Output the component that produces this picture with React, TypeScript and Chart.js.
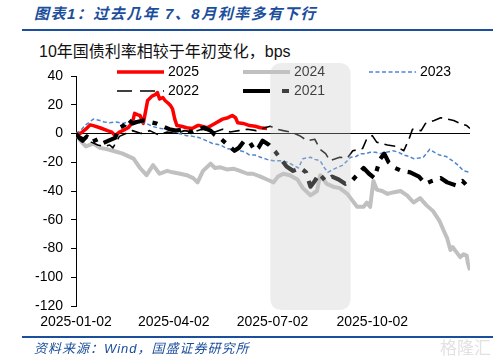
import React, { useEffect, useRef } from 'react';
import { Chart, registerables } from 'chart.js';

Chart.register(...registerables);

// ---- axis ticks ----
const xTickDays = [0, 90, 181, 273];
const xTickLabels = ['2025-01-02', '2025-04-02', '2025-07-02', '2025-10-02'];
const xMaxDay = 363;
const yMin = -120;
const yMax = 40;
const yStep = 20;

// ---- series (x = days since 2025-01-02, y = bps change vs. start of year) ----
const seriesNames = ['2025', '2024', '2023', '2022', '2021'];

const days2025 = [0, 4, 9, 13, 16, 22, 29, 33, 36, 40, 43, 48, 52, 54, 57, 59, 62, 64, 66, 70, 73, 75, 77, 80, 82, 85, 87, 89, 91, 93, 97, 102, 107, 112, 114, 121, 128, 135, 140, 144, 147, 149, 154, 160, 165, 170, 176];
const vals2025 = [0, 0, 3, 6, 5.5, 4, 2, 1, -1.5, 1, 2, 4, 7.5, 14, 13, 12.5, 7, 15, 23, 26, 27, 28.5, 24, 25, 23, 21, 19.5, 17, 10, 5.5, 5, 4, 3.5, 5.5, 5.5, 4, 7, 10, 11, 12.5, 11, 7.5, 7, 5.5, 5, 4, 3.5];

const days2024 = [0, 4, 9, 16, 22, 29, 34, 43, 53, 59, 65, 71, 77, 84, 89, 96, 102, 108, 112, 117, 124, 128, 133, 139, 145, 151, 158, 163, 170, 176, 182, 186, 191, 197, 204, 209, 216, 222, 225, 231, 237, 243, 250, 254, 259, 265, 268, 271, 274, 277, 282, 287, 292, 299, 305, 311, 317, 323, 329, 335, 339, 342, 345, 347, 350, 354, 357, 360, 361, 363];
const vals2024 = [0, -5, -9, -7, -10, -11, -12, -14, -17.5, -24, -29, -22, -28, -26, -27, -28, -29, -31, -34, -26, -21, -24, -23.5, -25, -24.5, -26, -28, -28, -30, -32, -34, -30, -28, -29, -32, -38, -43, -40, -29, -35, -37, -38, -42, -46, -51, -51, -48, -51, -33, -39, -40, -42, -41, -40, -43, -48, -45, -50, -54, -61, -68, -73, -81, -79, -82, -86, -84, -85, -90, -95];

const days2023 = [0, 4, 9, 16, 22, 26, 31, 37, 43, 48, 53, 59, 65, 70, 75, 82, 89, 95, 102, 108, 114, 120, 126, 133, 139, 145, 151, 156, 160, 165, 170, 176, 182, 188, 195, 200, 205, 209, 213, 216, 220, 225, 229, 232, 237, 241, 246, 253, 258, 262, 267, 271, 276, 280, 286, 292, 297, 302, 307, 311, 316, 320, 326, 330, 335, 341, 347, 352, 357, 363];
const vals2023 = [0, 2, 6, 10, 9, 8, 7.5, 8, 7, 8, 9, 8, 7, 5, 4, 3, 2, 0, -1.5, -2, -3, -5, -7, -8, -10.5, -11, -12, -13, -15, -15, -16.5, -18, -19, -19, -20, -22, -24, -17.5, -17, -16.5, -18, -19, -24, -27, -25, -23.5, -22, -16.5, -16, -14, -14, -13, -13, -14, -13, -12, -13, -15, -16, -17.5, -17, -16.5, -11, -13, -15, -16, -19, -22, -26, -27];

const days2022 = [0, 4, 9, 14, 20, 26, 31, 34, 40, 46, 52, 60, 68, 76, 84, 92, 100, 108, 116, 122, 128, 135, 142, 150, 158, 166, 174, 179, 185, 191, 198, 206, 213, 220, 225, 230, 234, 243, 250, 255, 264, 268, 273, 277, 287, 295, 302, 307, 310, 318, 322, 330, 336, 342, 348, 354, 360, 363];
const vals2022 = [0, -2, -4, -6, -8, -9, -8, -10, -2, 0, 2, 0, 2, -1, 1, 0, 2, 1, 3, 2, 1, 3, 1, 2, 3, 2, 4, 5, 3, 2, 1, -1.5, -5, -4, -11, -14, -19, -16.5, -17, -12, -10.5, -3.5, -1.5, -6, -8, -9, -12, -3.5, 3, 2, 7, 9, 11, 10, 9, 7, 5.5, 3.5];

const days2021 = [0, 3, 6, 10, 14, 20, 24, 30, 36, 40, 45, 48, 52, 56, 62, 68, 74, 80, 86, 92, 100, 106, 112, 118, 124, 128, 134, 140, 146, 150, 155, 160, 165, 168, 172, 178, 184, 190, 194, 200, 207, 212, 216, 220, 224, 230, 236, 242, 248, 254, 265, 270, 275, 280, 284, 288, 294, 300, 308, 316, 322, 328, 336, 342, 350, 356, 360, 363];
const vals2021 = [0, -3, -5, -2, -6, -4, -7, -5, -3, 4, 6, 10, 7, 8, 9, 8, 7, 5, 3, 2, 3, 1, 3, 4, 2, -1, -4, -8, -12, -10, -5, -6, -12, -10, -5, -8, -13, -19, -23, -26, -24, -27, -37, -33, -28, -33, -30, -32, -35, -33, -24, -28, -31, -18, -14, -20, -24, -26, -27, -30, -35, -33, -31, -34, -36, -33, -36, -38];

// shaded period (days)
const shadeStartDay = 179;
const shadeEndDay = 253;

const LATIN = '"Liberation Sans", Arial, "Noto Sans CJK SC", sans-serif';
const CJK = '"Liberation Sans", "Noto Sans CJK SC", sans-serif';
const BLUE = '#1b4e9c';

const styles = [
  { color: '#ff0000', width: 3.5, dash: [] as number[], legendDash: [] as number[] },
  { color: '#c0c0c0', width: 4, dash: [] as number[], legendDash: [] as number[] },
  { color: '#4f86cf', width: 1.5, dash: [4, 2.5], legendDash: [4, 2.5] },
  { color: '#000000', width: 1.6, dash: [11, 6], legendDash: [15, 8] },
  { color: '#000000', width: 4.2, dash: [17, 8, 5, 8], legendDash: [27, 12, 7, 12] },
];
const drawOrder = [4, 3, 2, 1, 0];
const legendPos = [
  { x: 117, y: 72 },
  { x: 243, y: 72 },
  { x: 369, y: 72 },
  { x: 117, y: 91 },
  { x: 243, y: 91 },
];

const legendPlugin = {
  id: 'customLegend',
  afterDatasetsDraw(chart: any) {
    const ctx = chart.ctx;
    ctx.save();
    chart.data.datasets.forEach((ds: any, i: number) => {
      const p = legendPos[i];
      const s = styles[i];
      ctx.beginPath();
      ctx.strokeStyle = s.color;
      ctx.lineWidth = s.width;
      ctx.setLineDash(s.legendDash);
      ctx.lineCap = 'butt';
      ctx.moveTo(p.x, p.y);
      ctx.lineTo(p.x + 47, p.y);
      ctx.stroke();
      ctx.setLineDash([]);
      ctx.fillStyle = '#000';
      ctx.font = '14px ' + LATIN;
      ctx.textBaseline = 'middle';
      ctx.textAlign = 'left';
      ctx.fillText(ds.label, p.x + 51, p.y + 0.5);
    });
    ctx.restore();
  },
};

const shadePlugin = {
  id: 'shade',
  afterDraw(chart: any) {
    const ctx = chart.ctx;
    const xs = chart.scales.x;
    const x0 = xs.getPixelForValue(shadeStartDay);
    const x1 = xs.getPixelForValue(shadeEndDay);
    const y0 = 63;
    const y1 = chart.chartArea.bottom + 4;
    const r = 12;
    ctx.save();
    ctx.fillStyle = 'rgba(200,200,200,0.32)';
    ctx.beginPath();
    ctx.moveTo(x0 + r, y0);
    ctx.lineTo(x1 - r, y0);
    ctx.quadraticCurveTo(x1, y0, x1, y0 + r);
    ctx.lineTo(x1, y1 - r);
    ctx.quadraticCurveTo(x1, y1, x1 - r, y1);
    ctx.lineTo(x0 + r, y1);
    ctx.quadraticCurveTo(x0, y1, x0, y1 - r);
    ctx.lineTo(x0, y0 + r);
    ctx.quadraticCurveTo(x0, y0, x0 + r, y0);
    ctx.closePath();
    ctx.fill();
    ctx.restore();
  },
};

export default function App() {
  const ref = useRef<HTMLCanvasElement>(null);

  useEffect(() => {
    const toPts = (d: number[], v: number[]) => d.map((x, i) => ({ x, y: v[i] }));
    const allDays = [days2025, days2024, days2023, days2022, days2021];
    const allVals = [vals2025, vals2024, vals2023, vals2022, vals2021];
    const datasets = seriesNames.map((name, i) => ({
      label: name,
      data: toPts(allDays[i], allVals[i]),
      borderColor: styles[i].color,
      borderWidth: styles[i].width,
      borderDash: styles[i].dash,
      borderJoinStyle: 'round' as const,
      pointRadius: 0,
      tension: 0,
      fill: false,
      order: drawOrder[i],
    }));

    const chart = new Chart(ref.current as HTMLCanvasElement, {
      type: 'line',
      data: { datasets },
      options: {
        responsive: false,
        animation: false,
        layout: { padding: { top: 76, right: 23, bottom: 25, left: 0 } },
        plugins: { legend: { display: false }, tooltip: { enabled: false } },
        scales: {
          x: {
            type: 'linear',
            min: 0,
            max: xMaxDay,
            afterBuildTicks: (s: any) => {
              s.ticks = xTickDays.map((v) => ({ value: v }));
            },
            afterFit: (s: any) => {
              s.height = 29;
            },
            ticks: {
              autoSkip: false,
              maxRotation: 0,
              padding: 8,
              color: '#000',
              font: { size: 14, family: LATIN },
              callback: (_v: any, idx: number) => xTickLabels[idx],
            },
            grid: { display: false, drawTicks: false },
            border: { display: false },
          },
          y: {
            min: yMin,
            max: yMax,
            afterFit: (s: any) => {
              s.width = 76;
            },
            ticks: {
              stepSize: yStep,
              padding: 8,
              color: '#000',
              font: { size: 14, family: LATIN },
            },
            grid: {
              color: (c: any) => (c.tick && c.tick.value === 0 ? '#000' : 'rgba(0,0,0,0)'),
              tickColor: '#000',
              tickLength: 5,
              lineWidth: 1,
            },
            border: { color: '#000', width: 1 },
          },
        },
      },
      plugins: [legendPlugin, shadePlugin],
    });
    return () => chart.destroy();
  }, []);

  return (
    <div style={{ position: 'absolute', left: 0, top: 0, width: 493, height: 360, background: '#fff', overflow: 'hidden' }}>
      <div
        style={{
          position: 'absolute', left: 34, top: 4, lineHeight: '20px', fontSize: 15, fontWeight: 'bold',
          fontStyle: 'italic', color: BLUE, fontFamily: CJK, letterSpacing: 1.5, whiteSpace: 'nowrap',
        }}
      >
        图表1：过去几年 7、8月利率多有下行
      </div>
      <div style={{ position: 'absolute', left: 22, top: 29, width: 471, height: 2, background: BLUE }} />
      <div
        style={{
          position: 'absolute', left: 39, top: 43, lineHeight: '18px', fontSize: 16, color: '#111',
          fontFamily: CJK, whiteSpace: 'nowrap',
        }}
      >
        10年国债利率相较于年初变化，bps
      </div>
      <canvas ref={ref} width={493} height={360} style={{ position: 'absolute', left: 0, top: 0, display: 'block' }} />
      <div style={{ position: 'absolute', left: 22, top: 336, width: 471, height: 2, background: BLUE }} />
      <div
        style={{
          position: 'absolute', left: 34, top: 341, lineHeight: '16px', fontSize: 13, fontStyle: 'italic',
          color: BLUE, fontFamily: CJK, letterSpacing: 1, whiteSpace: 'nowrap',
        }}
      >
        资料来源：Wind，国盛证券研究所
      </div>
      <div
        style={{
          position: 'absolute', left: 440, top: 339, lineHeight: '20px', fontSize: 17, color: '#e2e2e2',
          fontFamily: CJK, whiteSpace: 'nowrap',
        }}
      >
        格隆汇
      </div>
    </div>
  );
}
